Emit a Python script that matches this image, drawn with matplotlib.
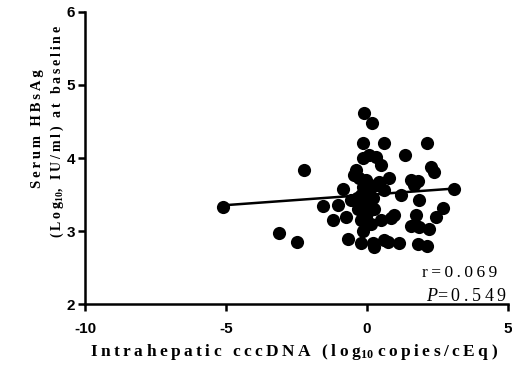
import numpy as np
import matplotlib
matplotlib.use("Agg")
import matplotlib.pyplot as plt

plt.rcParams['axes.unicode_minus'] = False
plt.rcParams['mathtext.fontset'] = 'custom'
plt.rcParams['mathtext.rm'] = 'Liberation Serif:weight=bold'
plt.rcParams['mathtext.bf'] = 'Liberation Serif:weight=bold'
plt.rcParams['mathtext.it'] = 'Liberation Serif:slant=italic:weight=normal'

# cccDNA (log10 copies/cEq) vs serum HBsAg (log10 IU/ml)
ccc = [-5.11, -2.23, -3.12, -2.48,
       -0.11, 0.18, -0.14, 0.60, 2.13, 1.35, -0.14, 0.07, 0.32, 0.50, 2.27, 2.38,
       -0.39, -0.46, -0.28, 0.78, 0.43, 0.32, 1.56, 1.81, 1.67, -0.85, 0.60, 1.21,
       3.09, -1.56, -1.03, -0.57, 1.84, 2.70, -1.21, -0.74, -0.21, 0.50, 0.96, 0.85,
       1.74, 2.45, 1.56, 1.84, 2.20,
       -0.67, -0.21, 0.21, 0.25, 0.60, 0.74, 1.13, 1.81, 2.13,
       0.00, -0.20, 0.20, -0.10, 0.10, -0.30, 0.00, 0.25, -0.15, 0.05, -0.05, 0.15,
       -0.35, -0.15, 0.10, -0.05]
hbsag = [3.33, 3.84, 2.97, 2.85,
         4.62, 4.48, 4.21, 4.21, 4.21, 4.04, 4.00, 4.04, 4.01, 3.90, 3.88, 3.81,
         3.84, 3.77, 3.73, 3.73, 3.67, 3.63, 3.70, 3.68, 3.63, 3.58, 3.56, 3.49,
         3.58, 3.34, 3.36, 3.42, 3.42, 3.32, 3.15, 3.19, 3.15, 3.15, 3.22, 3.18,
         3.22, 3.19, 3.07, 3.05, 3.03,
         2.89, 2.84, 2.84, 2.78, 2.88, 2.85, 2.84, 2.82, 2.79,
         3.55, 3.50, 3.45, 3.40, 3.35, 3.30, 3.25, 3.30, 3.60, 3.65, 3.20, 3.10,
         3.45, 3.00, 3.50, 3.70]

xticks = [-10, -5, 0, 5]
xtick_labels = ["-10", "-5", "0", "5"]
yticks = [2, 3, 4, 5, 6]
ytick_labels = ["2", "3", "4", "5", "6"]

# linear fit shown on the plot
slope = 0.028
intercept = 3.495
r_text = "r=0.069"
p_value = "0.549"


def spaced(s, gap="\u2009"):
    return gap.join(s)


fig = plt.figure(figsize=(5.12, 3.74), dpi=100)
ax = fig.add_axes([0.166, 0.187, 0.826, 0.781])

ax.scatter(ccc, hbsag, s=90, color='black', zorder=3, linewidths=0)
xs = np.array([min(ccc), max(ccc)])
ax.plot(xs, intercept + slope * xs, color='black', lw=1.8, zorder=2)

ax.set_xlim(-10, 5)
ax.set_ylim(2, 6)
tick_font = dict(family='Liberation Sans', fontweight='heavy', fontsize=11)
ax.set_xticks(xticks, xtick_labels, **tick_font)
ax.set_yticks(yticks, ytick_labels, **tick_font)
ax.spines['top'].set_visible(False)
ax.spines['right'].set_visible(False)
for sp in ['left', 'bottom']:
    ax.spines[sp].set_linewidth(1.8)
ax.tick_params(width=1.8, length=5, direction='out')
ax.tick_params(axis='x', pad=8)
ax.tick_params(axis='y', pad=2)

fig.text(0.575, 0.058,
         spaced("Intrahepatic cccDNA (log") + r"$_{\mathbf{10}}$" + " " + spaced("copies/cEq)"),
         ha='center', va='center', family='Liberation Serif', weight='bold', fontsize=12.5)
fig.text(0.074, 0.655, spaced("Serum HBsAg"), rotation=90, ha='center', va='center',
         family='Liberation Serif', weight='bold', fontsize=10.5)
fig.text(0.111, 0.648, spaced("(Log") + r"$_{\mathbf{10}}$" + spaced(", IU/ml) at baseline"),
         rotation=90, ha='center', va='center',
         family='Liberation Serif', weight='bold', fontsize=10)

ax.text(0.975, 0.105, spaced(r_text), transform=ax.transAxes, ha='right', va='center',
        family='Liberation Serif', weight='normal', fontsize=12.5)
ax.text(0.998, 0.025, r"$\mathit{P}$" + spaced("=" + p_value), transform=ax.transAxes,
        ha='right', va='center', family='Liberation Serif', weight='normal', fontsize=13)

fig.savefig("out.png", dpi=100)
